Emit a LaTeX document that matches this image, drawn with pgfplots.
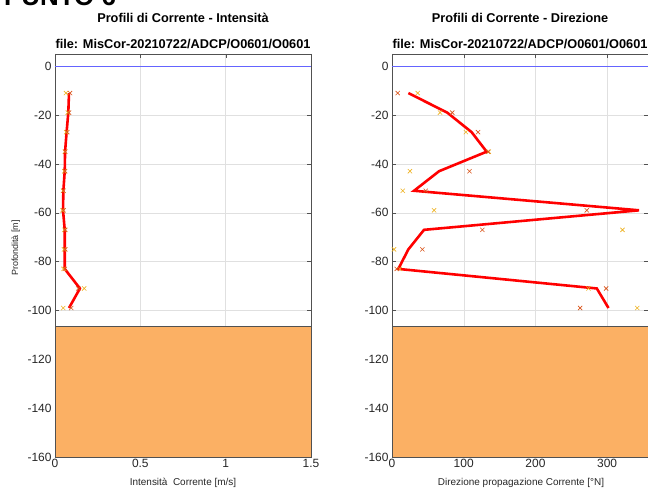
\documentclass[border=0pt]{standalone}
\usepackage{pgfplots}
\pgfplotsset{compat=1.18}
\usepackage{fontspec}
\setmainfont{Liberation Sans}

\definecolor{mlorange}{RGB}{217,83,25}
\definecolor{mlyellow}{RGB}{237,177,32}
\definecolor{seabed}{RGB}{251,176,100}
\definecolor{axgray}{RGB}{38,38,38}
\definecolor{zeroblue}{RGB}{100,100,255}

\pgfplotsset{
  profile/.style={
    scale only axis,
    width=256bp, height=403bp,
    anchor=south west,
    ymin=-160, ymax=5,
    ytick={-160,-140,...,0},
    grid=major,
    major grid style={color=black!12, line width=0.4pt},
    axis line style={color=axgray!80, line width=0.5pt},
    tick style={color=axgray!80},
    tick align=inside,
    major tick length=4bp,
    ticklabel style={font=\fontsize{12}{14}\selectfont, color=axgray},
    xticklabel style={yshift=1bp},
    /pgf/number format/assume math mode=true,
    clip=true,
  },
}
\tikzset{
  mean/.style={red, line width=2.6pt},
  mko/.style={only marks, mark=x, mark size=3pt, mlorange, mark options={line width=0.6pt}},
  mky/.style={only marks, mark=x, mark size=3pt, mlyellow, mark options={line width=0.6pt}},
  ttl/.style={font=\fontsize{12.8}{15}\selectfont\bfseries, anchor=base},
  lbl/.style={font=\fontsize{10}{12}\selectfont, color=axgray, anchor=base},
}

\begin{document}
\begin{tikzpicture}[x=1bp,y=1bp]
  % text cut by the top edge
  \node[anchor=base west, inner sep=0pt, font=\fontsize{26}{30}\selectfont\bfseries] at (4,483) {PUNTO 6};

  % left panel: intensity
  \begin{axis}[profile, at={(55bp,32bp)},
      xmin=0, xmax=1.5,
      xtick={0,0.5,1,1.5},
      xticklabels={0,0.5,1,1.5},
    ]
    \addplot[fill=seabed, draw=axgray!80, line width=0.5pt] coordinates {(0,-106.5) (1.5,-106.5) (1.5,-160) (0,-160)} -- cycle;
    \addplot[zeroblue, line width=0.6pt] coordinates {(0,0) (1.5,0)};
    \addplot[mky] coordinates {
      (0.064,-11) (0.075,-19) (0.066,-27) (0.058,-35) (0.055,-43) (0.047,-51)
      (0.044,-59) (0.056,-67) (0.053,-75) (0.050,-83) (0.171,-91) (0.048,-99)};
    \addplot[mko] coordinates {
      (0.088,-11) (0.082,-19) (0.072,-27) (0.060,-35) (0.059,-43) (0.050,-51)
      (0.050,-59) (0.060,-67) (0.060,-75) (0.058,-83) (0.136,-91) (0.095,-99)};
    \addplot[mean] coordinates {
      (0.082,-11) (0.078,-19) (0.068,-27) (0.059,-35) (0.057,-43) (0.049,-51)
      (0.047,-59) (0.057,-67) (0.057,-75) (0.057,-83) (0.146,-91) (0.082,-99)};
  \end{axis}
  \node[ttl] at (183,466) {Profili di Corrente - Intensità};
  \node[ttl] at (183,440) {file: MisCor-20210722/ADCP/O0601/O0601};
  \node[lbl] at (183,3) {Intensità\ \ Corrente [m/s]};
  \node[lbl, rotate=90, font=\fontsize{9}{11}\selectfont] at (18,241) {Profondità [m]};

  % right panel: direction
  \begin{axis}[profile, at={(392bp,32bp)},
      xmin=0, xmax=357,
      xtick={0,100,200,300},
    ]
    \addplot[fill=seabed, draw=axgray!80, line width=0.5pt] coordinates {(0,-106.5) (357,-106.5) (357,-160) (0,-160)} -- cycle;
    \addplot[zeroblue, line width=0.6pt] coordinates {(0,0) (357,0)};
    \addplot[mky] coordinates {
      (35.8,-11) (67,-19) (103,-27) (135,-35) (25,-43) (15,-51)
      (58.6,-59) (321.4,-67) (2.8,-75) (11,-83) (274,-91) (342,-99)};
    \addplot[mko] coordinates {
      (7.9,-11) (84,-19) (120,-27) (134,-35) (108,-43) (47,-51)
      (271.6,-59) (126,-67) (42.3,-75) (6.5,-83) (298.6,-91) (262.3,-99)};
    \addplot[mean] coordinates {
      (22.8,-11) (77,-19) (111,-27) (132,-35) (65.6,-43) (30.7,-51)
      (344.6,-59) (44.6,-67) (22.8,-75) (8.8,-83) (285.6,-91) (301.9,-99)};
  \end{axis}
  \node[ttl] at (520,466) {Profili di Corrente - Direzione};
  \node[ttl] at (520,440) {file: MisCor-20210722/ADCP/O0601/O0601};
  \node[lbl] at (521,3) {Direzione propagazione Corrente [°N]};

  \pgfresetboundingbox
  \useasboundingbox (0,0) rectangle (648,489);
\end{tikzpicture}
\end{document}
